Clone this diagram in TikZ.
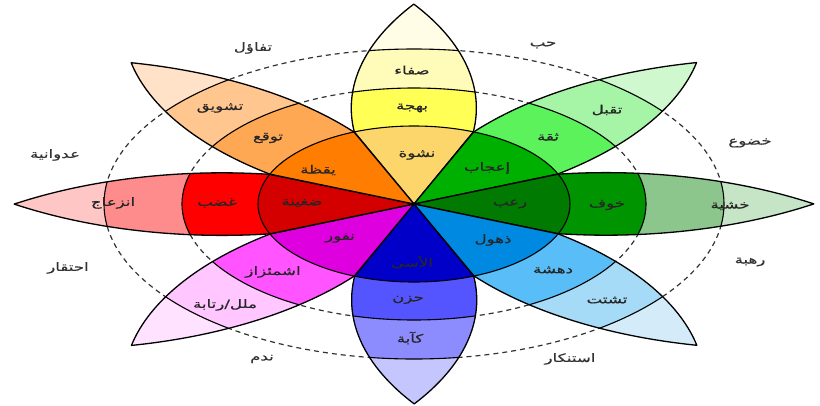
\documentclass[tikz,border=0pt]{standalone}
\usepackage{fontspec}
\TeXXeTstate=1
\newfontfamily\arabicfont[Script=Arabic,FakeStretch=1.45,FakeBold=0.5]{DejaVu Sans}
\newcommand{\artxt}[1]{{\arabicfont\beginR #1\endR}}
\definecolor{yI}{HTML}{FCD66A}\definecolor{yM}{HTML}{FFFF55}\definecolor{yO}{HTML}{FFFBB8}\definecolor{yT}{HTML}{FFFDE6}
\definecolor{gI}{HTML}{00B000}\definecolor{gM}{HTML}{5CF25C}\definecolor{gO}{HTML}{A6F5A6}\definecolor{gT}{HTML}{CFF8CF}
\definecolor{dI}{HTML}{007A00}\definecolor{dM}{HTML}{009400}\definecolor{dO}{HTML}{8CC68C}\definecolor{dT}{HTML}{C6E4C6}
\definecolor{cI}{HTML}{0089E0}\definecolor{cM}{HTML}{59BDF7}\definecolor{cO}{HTML}{A5DBF7}\definecolor{cT}{HTML}{D4ECFA}
\definecolor{bI}{HTML}{0000C8}\definecolor{bM}{HTML}{5555FF}\definecolor{bO}{HTML}{8C8CFF}\definecolor{bT}{HTML}{C6C6FF}
\definecolor{mI}{HTML}{DE00DE}\definecolor{mM}{HTML}{FF54FF}\definecolor{mO}{HTML}{FFC6FF}\definecolor{mT}{HTML}{FFE2FF}
\definecolor{rI}{HTML}{D40000}\definecolor{rM}{HTML}{FF0000}\definecolor{rO}{HTML}{FF8C8C}\definecolor{rT}{HTML}{FFC6C6}
\definecolor{oI}{HTML}{FF7D00}\definecolor{oM}{HTML}{FFA854}\definecolor{oO}{HTML}{FFC690}\definecolor{oT}{HTML}{FFE2C8}
\newcommand{\petalpath}{(0,0) -- (22.5:78) arc[start angle=97.3, end angle=56.5, radius=188.3] arc[start angle=-56.5, end angle=-97.3, radius=188.3] -- cycle}
\newcommand{\petal}[5]{%
 \begin{scope}[rotate=#1]
  \begin{scope}
   \clip \petalpath;
   \fill[#5] (0,0) circle (215);
   \fill[#4] (0,0) circle (155);
   \fill[#3] (0,0) circle (116);
   \fill[#2] (0,0) circle (78);
   \draw[bandline] (0,0) circle (78) (0,0) circle (116) (0,0) circle (155);
  \end{scope}
  \draw[petalline] \petalpath;
 \end{scope}}
\tikzset{
 bandline/.style={line width=1.1pt, black},
 petalline/.style={line width=1.3pt, black, line join=round},
 dashline/.style={line width=1.2pt, black!80, dash pattern=on 5pt off 4pt},
 lbl/.style={font=\arabicfont\fontsize{11.5}{13}\selectfont, inner sep=0pt, text=black!85},
 dyad/.style={font=\arabicfont\fontsize{11.5}{13}\selectfont, inner sep=0pt, text=black!80}
}
\begin{document}
\begin{tikzpicture}[x=1pt,y=1pt]
\useasboundingbox (0,0) rectangle (820,-405);
\fill[white] (0,0) rectangle (820,-405);
\begin{scope}[shift={(414pt,-204pt)}, xscale=2]
 \draw[dashline] (0,0) circle (116);
 \draw[dashline] (0,0) circle (155);
 \petal{90}{yI}{yM}{yO}{yT}
 \petal{45}{gI}{gM}{gO}{gT}
 \petal{0}{dI}{dM}{dO}{dT}
 \petal{-45}{cI}{cM}{cO}{cT}
 \petal{-90}{bI}{bM}{bO}{bT}
 \petal{-135}{mI}{mM}{mO}{mT}
 \petal{180}{rI}{rM}{rO}{rT}
 \petal{135}{oI}{oM}{oO}{oT}
\end{scope}
% petal labels
\node[lbl] (y3) at (412,-70) {\artxt{صفاء}};
\node[lbl] (y2) at (412,-108) {\artxt{بهجة}};
\node[lbl] (y1) at (417,-155) {\artxt{نشوة}};
\node[lbl] (g3) at (607,-110) {\artxt{تقبل}};
\node[lbl] (g2) at (548,-137) {\artxt{ثقة}};
\node[lbl] (g1) at (487,-168) {\artxt{إعجاب}};
\node[lbl] (d3) at (730,-206) {\artxt{خشية}};
\node[lbl] (d2) at (607,-205) {\artxt{خوف}};
\node[lbl] (d1) at (510,-204) {\artxt{رعب}};
\node[lbl] (c1) at (493,-240) {\artxt{ذهول}};
\node[lbl] (c2) at (553,-270) {\artxt{دهشة}};
\node[lbl] (c3) at (607,-300) {\artxt{تشتت}};
\node[lbl] (b1) at (412,-262) {\artxt{الأسى}};
\node[lbl] (b2) at (408,-300) {\artxt{حزن}};
\node[lbl] (b3) at (410,-338) {\artxt{كآبة}};
\node[lbl] (m1) at (340,-238) {\artxt{نفور}};
\node[lbl] (m2) at (273,-272) {\artxt{اشمئزاز}};
\node[lbl] (m3) at (225,-305) {\artxt{رتابة}/\artxt{ملل}};
\node[lbl] (r1) at (302,-203) {\artxt{ضغينة}};
\node[lbl] (r2) at (217,-203) {\artxt{غضب}};
\node[lbl] (r3) at (113,-203) {\artxt{انزعاج}};
\node[lbl] (o1) at (318,-170) {\artxt{يقظة}};
\node[lbl] (o2) at (268,-138) {\artxt{توقع}};
\node[lbl] (o3) at (220,-108) {\artxt{تشويق}};
% dyads
\node[dyad] (a1) at (253,-48) {\artxt{تفاؤل}};
\node[dyad] (a2) at (543,-45) {\artxt{حب}};
\node[dyad] (a3) at (750,-143) {\artxt{خضوع}};
\node[dyad] (a4) at (750,-262) {\artxt{رهبة}};
\node[dyad] (a5) at (570,-359) {\artxt{استنكار}};
\node[dyad] (a6) at (262,-359) {\artxt{ندم}};
\node[dyad] (a7) at (68,-268) {\artxt{احتقار}};
\node[dyad] (a8) at (55,-155) {\artxt{عدوانية}};
\end{tikzpicture}
\end{document}
